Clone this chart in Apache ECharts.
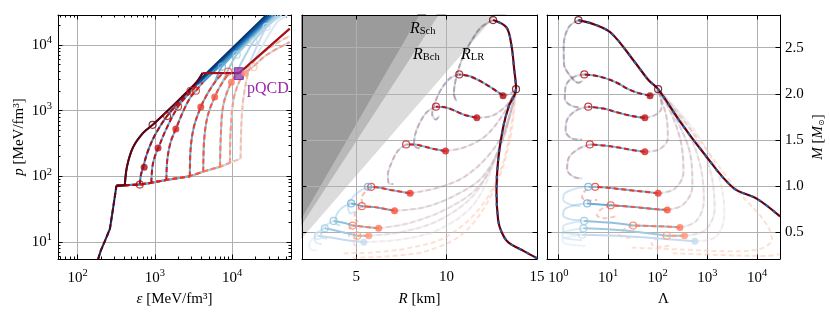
<!DOCTYPE html>
<html><head><meta charset="utf-8">
<script src="https://cdn.jsdelivr.net/npm/echarts@6/dist/echarts.min.js"></script>
<style>html,body{margin:0;padding:0;background:#fff}#c{width:830px;height:312px}</style>
</head><body><div id="c"></div>
<script>
// ================= DATA =================
// ---- Panel 1: equation of state p(eps), MeV/fm^3 ----
const eosHadron = [[184,5.5],[200,7.5],[230,11],[262,16],[290,35],[318,72],[320,72]];
const eosPlateau = [[320,72],[408,73],[638,75],[900,80],[1410,88],[2840,100],[4240,118],[7000,140],[9400,160],[12900,186]];
const eosRise = [
  [[437,143],[523,278],[705,458],[935,606],[1410,950],[2230,1600],[3470,2700],[4150,3720]],
  [[660,105],[705,138],[800,230],[1000,420],[1440,826],[2200,1450],[3200,2300]],
  [[930,140],[1000,200],[1110,270],[1400,520],[2000,1150],[2700,1750],[3600,2500]],
  [[1450,180],[1600,330],[1870,525],[2400,1050],[2900,1600],[3400,2000],[4200,2700]],
  [[2900,250],[3200,560],[3940,1130],[4800,1800],[6000,2700],[7700,3800]],
  [[4350,350],[4800,800],[5960,1610],[7400,2600],[9000,3600]],
  [[7150,400],[7700,1200],[9800,2700],[12500,3900]],
  [[9600,500],[10500,1500],[12500,2800],[14800,3700],[19000,4700],[28000,7000],[56000,11000]],
  [[13200,600],[14000,1500],[15500,3000],[17500,4800],[25000,7500],[40000,11000],[56000,13600]]
];
const eosFan = [
  [[2230,1600],[27500,28000]],
  [[3200,2300],[29500,28000]],
  [[3600,2500],[31500,28000]],
  [[4200,2700],[33000,28000]],
  [[6000,2700],[7400,4650],[34500,28000]],
  [[7400,2600],[11500,7070],[37000,28000]],
  [[9800,2700],[19000,11300],[40000,28000]],
  [[14800,3700],[28000,18700],[44000,28000]],
  [[17500,4800],[38000,22000],[52000,28000]]
];
const eosPqcdPath = [[4150,3720],[12500,3750],[56000,17600]];
const pqcdBoxEps = [10700, 14000];
const pqcdBoxP = [2970, 4480];
const eosFilled = [[727,138],[1100,270],[1870,525],[3940,1130],[5960,1610],[9800,2700],[14800,3700]];
const eosOpenRed = [[638,75],[935,606],[1440,826],[2000,1150],[2900,2000],[3400,2000],[8900,3900],[19000,4600]];
const eosOpenBlue = [[7400,4650],[11500,7070],[19000,11300],[28000,18700]];

// ---- Panel 2: mass-radius (R km, M Msun) ----
const mrMain = [[15,0.215],[14.3,0.29],[13.4,0.39],[13.04,0.5],[12.85,0.63],[12.76,0.94],[12.85,1.28],[13.12,1.63],[13.45,1.87],[13.84,2.05],[13.73,2.28],[13.59,2.52],[13.31,2.72],[12.57,2.80]];
const mrMainFade = [[12.57,2.80],[11.9,2.72],[11.3,2.55],[10.8,2.35],[10.5,2.15],[10.4,2.0],[10.55,1.92]];
const mrStable = [
  [[13.12,1.98],[12.2,2.1],[11.29,2.19],[10.7,2.21]],
  [[11.67,1.74],[11.0,1.77],[10.4,1.82],[9.9,1.855],[9.41,1.86]],
  [[9.94,1.38],[9.3,1.40],[8.7,1.43],[8.2,1.45],[7.76,1.45]],
  [[7.98,0.92],[7.4,0.94],[6.8,0.96],[6.3,0.98],[5.83,0.99]],
  [[7.12,0.73],[6.6,0.75],[6.0,0.77],[5.31,0.78]],
  [[6.24,0.54],[5.8,0.55],[5.3,0.56],[4.8,0.57]],
  [[5.69,0.46],[5.4,0.46],[5.06,0.46]]
];
const mrBlueTail = [
  [[5.83,0.99],[5.65,0.99]],
  [[5.31,0.78],[5.0,0.80],[4.72,0.81]],
  [[4.8,0.57],[4.3,0.60],[3.75,0.62]],
  [[5.06,0.46],[4.2,0.50],[3.26,0.54]],
  [[5.42,0.39],[4.5,0.41],[3.6,0.44],[2.88,0.46]]
];
const mrLink = [
  [[13.12,1.98],[13.5,2.0],[13.84,2.05]],
  [[11.67,1.74],[12.5,1.76],[13.2,1.85],[13.6,1.95],[13.84,2.05]],
  [[9.94,1.38],[11,1.42],[12.2,1.55],[13.2,1.8],[13.84,2.05]],
  [[7.98,0.92],[9.5,0.98],[11,1.1],[12.4,1.35],[13.3,1.65],[13.84,2.05]],
  [[7.12,0.73],[8.8,0.77],[10.5,0.9],[12,1.1],[13.1,1.5],[13.84,2.05]],
  [[6.24,0.54],[8,0.6],[10,0.75],[11.8,1.0],[13,1.45],[13.84,2.05]],
  [[5.69,0.46],[7.5,0.5],[9.5,0.62],[11.5,0.9],[12.9,1.4],[13.84,2.05]],
  [[5.42,0.39],[7.5,0.42],[9.5,0.52],[11.5,0.8],[12.8,1.35],[13.84,2.05]]
];
const mrSpiral = [
  [[10.7,2.21],[10.2,2.17],[9.7,2.05],[9.35,1.9],[9.2,1.78],[9.4,1.72],[9.6,1.76]],
  [[9.41,1.86],[8.9,1.8],[8.5,1.68],[8.25,1.55],[8.2,1.45],[8.45,1.41],[8.6,1.45]],
  [[7.76,1.45],[7.3,1.38],[6.95,1.25],[6.75,1.12],[6.8,1.03],[7.05,1.02]],
  [[5.65,0.99],[5.1,0.93],[4.7,0.85],[4.55,0.76],[4.7,0.70],[4.95,0.72]],
  [[4.72,0.81],[4.2,0.76],[3.9,0.68],[3.85,0.60],[4.1,0.57]],
  [[3.75,0.62],[3.3,0.57],[3.05,0.50],[3.1,0.44],[3.4,0.43]],
  [[3.26,0.54],[2.9,0.50],[2.7,0.44],[2.8,0.38],[3.1,0.37]],
  [[2.88,0.46],[2.55,0.42],[2.4,0.36],[2.5,0.31],[2.8,0.30]]
];
const mrRedCurl = [
  [[5.83,0.99],[5.5,0.94],[5.3,0.86],[5.35,0.80]],
  [[5.31,0.78],[5.0,0.72],[4.9,0.65],[5.1,0.61]],
  [[4.8,0.57],[4.6,0.52],[4.6,0.46],[4.85,0.44]],
  [[5.06,0.46],[4.85,0.41],[4.9,0.36],[5.2,0.35]]
];
const mrLowArcs = [
  [[4.3,0.27],[6,0.28],[8,0.33],[10,0.45],[12,0.8],[13.2,1.3],[13.84,2.05]],
  [[4.8,0.22],[7,0.24],[9,0.30],[11,0.5],[12.6,0.95],[13.5,1.5],[13.84,2.05]]
];
const mrFilled = [[13.12,1.98],[11.67,1.74],[9.94,1.38],[7.98,0.92],[7.12,0.73],[6.24,0.54],[5.69,0.46]];
const mrFilledBlue = [[5.42,0.39]];
const mrOpenRed = [[12.57,2.80],[13.84,2.05],[10.7,2.21],[9.41,1.86],[7.76,1.45],[5.83,0.99],[5.31,0.78],[4.8,0.57],[5.06,0.46]];
const mrOpenBlue = [[5.65,0.99],[4.72,0.81],[3.75,0.62],[3.26,0.54],[2.88,0.46]];
// compactness limits R = c*M  (two points each)
const rSchLine = [[0,0],[8.86,3.0]];
const rBchLine = [[0,0],[9.97,3.0]];
const rLrLine  = [[0,0],[13.29,3.0]];

// ---- Panel 3: tidal deformability Lambda vs M ----
const mlMain = [[2.53,2.80],[5.5,2.75],[11.8,2.655],[35,2.34],[65,2.15],[102,2.05],[280,1.70],[830,1.36],[3300,0.98],[10000,0.86],[29000,0.67]];
const mlMainFade = [[2.53,2.80],[1.6,2.72],[1.28,2.52],[1.3,2.32],[1.7,2.2],[2.5,2.12],[3.1,2.14]];
const mlStable = [
  [[70,1.98],[40,2.01],[25.6,2.05],[15,2.12],[8.7,2.17],[5,2.2],[3.33,2.21]],
  [[55,1.74],[30,1.76],[15,1.80],[8,1.84],[4,1.86]],
  [[55,1.37],[30,1.39],[15,1.42],[8,1.44],[4.3,1.45]],
  [[102,0.92],[50,0.94],[25.6,0.955],[10,0.98],[5.5,0.99]],
  [[156,0.74],[80,0.75],[35,0.77],[11.3,0.79]],
  [[280,0.55],[150,0.56],[70,0.565],[32,0.57]],
  [[346,0.46],[250,0.46],[152,0.46]]
];
const mlBlueTail = [
  [[5.5,0.99],[4.0,0.99]],
  [[11.3,0.79],[6,0.80],[3.8,0.81]],
  [[32,0.57],[12,0.60],[6,0.61],[3.3,0.62]],
  [[152,0.46],[40,0.50],[10,0.53],[3.2,0.54]],
  [[560,0.40],[100,0.43],[15,0.46],[3.0,0.47]]
];
const mlLink = [
  [[70,1.98],[90,2.0],[102,2.05]],
  [[55,1.74],[90,1.77],[120,1.85],[115,1.95],[102,2.05]],
  [[55,1.37],[110,1.4],[160,1.52],[150,1.75],[120,1.93],[102,2.05]],
  [[102,0.92],[220,0.97],[330,1.15],[300,1.45],[200,1.75],[102,2.05]],
  [[156,0.74],[330,0.8],[500,1.0],[450,1.35],[250,1.7],[102,2.05]],
  [[280,0.55],[600,0.62],[850,0.85],[700,1.25],[350,1.65],[102,2.05]],
  [[346,0.46],[900,0.52],[1400,0.75],[1100,1.2],[450,1.62],[102,2.05]],
  [[560,0.40],[1500,0.45],[2200,0.7],[1600,1.15],[550,1.6],[102,2.05]]
];
const mlSpiral = [
  [[3.33,2.21],[2,2.18],[1.4,2.08],[1.35,1.95],[1.7,1.88],[2.6,1.85]],
  [[4,1.86],[2.3,1.82],[1.5,1.72],[1.4,1.6],[1.8,1.52],[3,1.5]],
  [[4.3,1.45],[2.5,1.4],[1.6,1.3],[1.5,1.18],[2,1.1],[3,1.08]],
  [[4.0,0.99],[2.2,0.97],[1.35,0.92],[1.25,0.85],[1.7,0.8],[2.8,0.78]],
  [[3.8,0.81],[2.1,0.79],[1.3,0.74],[1.25,0.68],[1.7,0.64],[2.8,0.63]],
  [[3.3,0.62],[1.9,0.6],[1.25,0.56],[1.25,0.5],[1.8,0.48],[2.8,0.47]],
  [[3.2,0.54],[1.8,0.52],[1.2,0.49],[1.25,0.44],[1.9,0.42],[3,0.41]],
  [[3.0,0.47],[1.7,0.45],[1.2,0.42],[1.3,0.38],[2,0.36],[3.5,0.35]]
];
const mlRedCurl = [
  [[5.5,0.99],[3.5,0.95],[3,0.88],[4,0.84],[6,0.85]],
  [[11.3,0.79],[7,0.74],[6,0.68],[9,0.65],[14,0.67]],
  [[32,0.57],[20,0.52],[17,0.47],[25,0.44],[40,0.45]],
  [[152,0.46],[90,0.42],[75,0.37],[110,0.34],[170,0.35]]
];
const mlLowArcs = [
  [[30,0.33],[300,0.31],[3000,0.29],[12000,0.32],[20000,0.42],[14000,0.62],[4000,0.95],[800,1.45],[102,2.05]],
  [[200,0.27],[2000,0.25],[15000,0.24],[29000,0.26]]
];
const mlFilled = [[70,1.98],[55,1.74],[55,1.37],[102,0.92],[156,0.74],[280,0.55],[346,0.46]];
const mlFilledBlue = [[560,0.40]];
const mlOpenRed = [[2.53,2.80],[102,2.05],[3.33,2.21],[4.0,1.86],[4.3,1.45],[5.5,0.99],[11.3,0.79],[32,0.57],[152,0.46]];
const mlOpenBlue = [[4.0,0.99],[3.8,0.81],[3.3,0.62],[3.2,0.54],[3.0,0.47]];

// ---- axis ticks ----
const epsMajor = [100,1000,10000];
const epsMinor = [60,70,80,90,200,300,400,500,600,700,800,900,2000,3000,4000,5000,6000,7000,8000,9000,20000,30000,40000,50000];
const pMajor = [10,100,1000,10000];
const pMinor = [6,7,8,9,20,30,40,50,60,70,80,90,200,300,400,500,600,700,800,900,2000,3000,4000,5000,6000,7000,8000,9000,20000];
const rMajor = [5,10,15];
const mMajor = [0.5,1.0,1.5,2.0,2.5];
const lamMajor = [1,10,100,1000,10000];

// ================= STYLE =================
const F = 'Liberation Serif';
const FS = 15;
const redK  = ['#67000d','#a50f15','#bc141a','#d42020','#ea372a','#f6553c','#fc7b5c','#fc9a7e','#fcbba1'];
const blueK = ['#08306b','#4a89c0','#6baed6','#6baed6','#6baed6','#8fc2de','#9ecae1','#c6dbef','#dbe9f6'];
const fanK  = ['#08306b','#08519c','#2171b5','#4292c6','#6baed6','#9ecae1','#b4d4ea','#c6dbef','#dbe9f6'];
const redH  = ['#a50f15','#bc141a','#d42020','#ea372a','#f6553c','#fc7b5c','#fc9a7e','#fcbba1'];
const blueH = ['#6baed6','#6baed6','#7db8dc','#7db8dc','#6baed6','#8fc2de','#9ecae1','#c6dbef'];
const openRedC = ['#67000d','#67000d','#a50f15','#bc141a','#d42020','#ea372a','#f6553c','#fc7b5c','#fc9a7e'];
const openBlueC = ['#6baed6','#6baed6','#8fc2de','#9ecae1','#c6dbef'];
const eosOpenRedC = ['#a50f15','#67000d','#a50f15','#bc141a','#d42020','#d42020','#f6553c','#fcbba1'];
const eosOpenBlueC = ['#6baed6','#9ecae1','#b4d4ea','#c6dbef'];
const DASH = [5,3];

const S = [];
function ln(p, data, color, o) {
  o = o || {};
  const s = {type:'line', xAxisIndex:p, yAxisIndex:p, data:data, symbol:'none',
    smooth: o.sm === undefined ? 0.35 : o.sm, clip:true, silent:true, animation:false,
    z: o.z === undefined ? 2 : o.z,
    lineStyle:{color:color, width:o.w || 2, type:o.d || 'solid', opacity:o.op === undefined ? 1 : o.op, cap:'butt'}};
  if (o.area) s.areaStyle = o.area;
  S.push(s);
}
function pair(p, data, blue, red, o) {
  o = o || {};
  ln(p, data, blue, {op:o.op, sm:o.sm});
  ln(p, data, red, {op:o.op, sm:o.sm, d:DASH});
}
function dots(p, pts, colors, open, size) {
  S.push({type:'scatter', xAxisIndex:p, yAxisIndex:p, symbolSize:size, silent:true, animation:false, z:6, clip:true,
    data: pts.map((v,i) => ({value:v, itemStyle: open
      ? {color:'rgba(255,255,255,0)', borderColor:colors[i % colors.length], borderWidth:1.2}
      : {color:colors[i % colors.length]}}))});
}

// ---- Panel 1 series ----
for (let k = 8; k >= 0; k--) ln(0, eosPlateau.slice(0, k + 2), blueK[k], {sm:false});
for (let k = 8; k >= 0; k--) ln(0, [eosPlateau[k + 1]].concat(eosRise[k]), blueK[k]);
for (let k = 8; k >= 0; k--) ln(0, eosFan[k], fanK[k], {sm:0.2});
for (let k = 8; k >= 1; k--) ln(0, eosPlateau.slice(0, k + 2), redK[k], {sm:false, d:DASH});
for (let k = 8; k >= 1; k--) ln(0, [eosPlateau[k + 1]].concat(eosRise[k]), redK[k], {d:DASH});
ln(0, eosPlateau.slice(0, 2), redK[0], {sm:false});
ln(0, [eosPlateau[1]].concat(eosRise[0]), redK[0]);
ln(0, eosPqcdPath, '#a50f15', {sm:false, w:2.2});
ln(0, eosHadron, '#08306b', {sm:false});
ln(0, eosHadron, '#67000d', {sm:false, d:DASH});
S.push({type:'custom', xAxisIndex:0, yAxisIndex:0, silent:true, animation:false, z:4, clip:true,
  data:[[pqcdBoxEps[0], pqcdBoxP[0], pqcdBoxEps[1], pqcdBoxP[1]]],
  encode:{x:[0,2], y:[1,3]},
  renderItem:function(params, api){
    const a = api.coord([api.value(0), api.value(1)]);
    const b = api.coord([api.value(2), api.value(3)]);
    return {type:'rect', shape:{x:a[0], y:b[1], width:b[0]-a[0], height:a[1]-b[1]},
            style:{fill:'rgba(142,56,168,0.75)', stroke:'rgba(120,40,150,0.9)', lineWidth:1}};
  }});
dots(0, eosFilled, redK.slice(1), false, 7);
dots(0, eosOpenRed, eosOpenRedC, true, 7);
dots(0, eosOpenBlue, eosOpenBlueC, true, 7);

// ---- Panel 2 series ----
ln(1, rLrLine, '#dcdcdc', {sm:false, w:0, z:-1, area:{color:'#dcdcdc', opacity:1, origin:'end'}});
ln(1, rBchLine, '#b9b9b9', {sm:false, w:0, z:-1, area:{color:'#b9b9b9', opacity:1, origin:'end'}});
ln(1, rSchLine, '#9b9b9b', {sm:false, w:0, z:-1, area:{color:'#9b9b9b', opacity:1, origin:'end'}});
mrLowArcs.forEach(a => ln(1, a, '#fcbba1', {op:0.45, d:DASH}));
mrLink.forEach((a,i) => pair(1, a, blueH[i], redH[i], {op:0.22}));
mrSpiral.forEach((a,i) => ln(1, a, blueH[i], {op:0.35}));
mrSpiral.slice(0,3).forEach((a,i) => ln(1, a, redH[i], {op:0.28, d:DASH}));
mrRedCurl.forEach((a,i) => ln(1, a, redH[i+3], {op:0.35, d:DASH}));
pair(1, mrMainFade, '#08306b', '#67000d', {op:0.22});
mrBlueTail.forEach((a,i) => ln(1, a, blueH[i+3]));
mrStable.forEach((a,i) => pair(1, a, blueH[i], redH[i]));
ln(1, mrMain, '#67000d', {w:2.2});
ln(1, mrMain, '#2b5c9e', {w:2.2, d:[3,6]});
dots(1, mrFilled, redH, false, 7);
dots(1, mrFilledBlue, ['#c6dbef'], false, 7);
dots(1, mrOpenRed, openRedC, true, 7);
dots(1, mrOpenBlue, openBlueC, true, 7);

// ---- Panel 3 series ----
mlLowArcs.forEach(a => ln(2, a, '#fcbba1', {op:0.45, d:DASH}));
mlLink.forEach((a,i) => pair(2, a, blueH[i], redH[i], {op:0.22}));
mlSpiral.forEach((a,i) => ln(2, a, blueH[i], {op:0.35}));
mlSpiral.slice(0,3).forEach((a,i) => ln(2, a, redH[i], {op:0.28, d:DASH}));
mlRedCurl.forEach((a,i) => ln(2, a, redH[i+3], {op:0.35, d:DASH}));
pair(2, mlMainFade, '#08306b', '#67000d', {op:0.22});
mlBlueTail.forEach((a,i) => ln(2, a, blueH[i+3]));
mlStable.forEach((a,i) => pair(2, a, blueH[i], redH[i]));
ln(2, mlMain, '#67000d', {w:2.2});
ln(2, mlMain, '#2b5c9e', {w:2.2, d:[3,6]});
dots(2, mlFilled, redH, false, 7);
dots(2, mlFilledBlue, ['#c6dbef'], false, 7);
dots(2, mlOpenRed, openRedC, true, 7);
dots(2, mlOpenBlue, openBlueC, true, 7);

// ================= AXES =================
const frame = {show:true, onZero:false, lineStyle:{color:'#000', width:1}};
const noLine = {show:false};
const grid = {show:true, lineStyle:{color:'#b0b0b0', width:1}};
function tick(vals, len) { return {show:true, inside:true, length:len, customValues:vals, lineStyle:{color:'#000', width:1}}; }
const supRich = {b:{fontFamily:F, fontSize:FS, lineHeight:20, color:'#000'},
                 s:{fontFamily:F, fontSize:10.5, lineHeight:8, verticalAlign:'top', color:'#000'}};
function supFmt(v) { return '{b|10}{s|' + Math.round(Math.log10(v)) + '}'; }
const nameStyle = {fontFamily:F, fontSize:FS, color:'#000',
  rich:{i:{fontFamily:F, fontStyle:'italic', fontSize:FS, color:'#000'},
        sub:{fontFamily:'DejaVu Sans', fontSize:8, verticalAlign:'bottom', lineHeight:8, color:'#000'}}};
const off = {show:false};
const E1 = [55.6, 58100], P1 = [5.53, 28400], R2 = [2, 15], M2 = [0.207, 2.855], L3 = [0.59, 29000];

const xAxis = [
  {type:'log', gridIndex:0, position:'bottom', min:E1[0], max:E1[1], axisLine:frame, axisTick:tick(epsMajor,4.5),
   axisLabel:{customValues:epsMajor, formatter:supFmt, rich:supRich, margin:9}, splitLine:grid,
   name:'{i|ε} [MeV/fm³]', nameLocation:'middle', nameGap:33, nameTextStyle:nameStyle},
  {type:'value', gridIndex:1, position:'bottom', min:R2[0], max:R2[1], axisLine:frame, axisTick:tick(rMajor,4.5),
   axisLabel:{customValues:rMajor, fontFamily:F, fontSize:FS, color:'#000', margin:11}, splitLine:grid,
   name:'{i|R} [km]', nameLocation:'middle', nameGap:33, nameTextStyle:nameStyle},
  {type:'log', gridIndex:2, position:'bottom', min:L3[0], max:L3[1], axisLine:frame, axisTick:tick(lamMajor,4.5),
   axisLabel:{customValues:lamMajor, formatter:supFmt, rich:supRich, margin:9}, splitLine:grid,
   name:'Λ', nameLocation:'middle', nameGap:33, nameTextStyle:nameStyle},
  {type:'log', gridIndex:0, position:'top', min:E1[0], max:E1[1], axisLine:frame, axisTick:tick(epsMajor,4.5), axisLabel:off, splitLine:off},
  {type:'value', gridIndex:1, position:'top', min:R2[0], max:R2[1], axisLine:frame, axisTick:tick(rMajor,4.5), axisLabel:off, splitLine:off},
  {type:'log', gridIndex:2, position:'top', min:L3[0], max:L3[1], axisLine:frame, axisTick:tick(lamMajor,4.5), axisLabel:off, splitLine:off},
  {type:'log', gridIndex:0, position:'bottom', min:E1[0], max:E1[1], axisLine:noLine, axisTick:tick(epsMinor,2.5), axisLabel:off, splitLine:off},
  {type:'log', gridIndex:0, position:'top', min:E1[0], max:E1[1], axisLine:noLine, axisTick:tick(epsMinor,2.5), axisLabel:off, splitLine:off}
];
const yAxis = [
  {type:'log', gridIndex:0, position:'left', min:P1[0], max:P1[1], axisLine:frame, axisTick:tick(pMajor,4.5),
   axisLabel:{customValues:pMajor, formatter:supFmt, rich:supRich, margin:6}, splitLine:grid,
   name:'{i|p} [MeV/fm³]', nameLocation:'middle', nameGap:31, nameRotate:90, nameTextStyle:nameStyle},
  {type:'value', gridIndex:1, position:'left', min:M2[0], max:M2[1], axisLine:frame, axisTick:tick(mMajor,4.5), axisLabel:off, splitLine:grid},
  {type:'value', gridIndex:2, position:'right', min:M2[0], max:M2[1], axisLine:frame, axisTick:tick(mMajor,4.5),
   axisLabel:{customValues:mMajor, formatter:v => v.toFixed(1), fontFamily:F, fontSize:FS, color:'#000', margin:5}, splitLine:grid,
   name:'{i|M} [{i|M}{sub|⊙}]', nameLocation:'middle', nameGap:31, nameRotate:90, nameTextStyle:nameStyle},
  {type:'log', gridIndex:0, position:'right', min:P1[0], max:P1[1], axisLine:frame, axisTick:tick(pMajor,4.5), axisLabel:off, splitLine:off},
  {type:'value', gridIndex:1, position:'right', min:M2[0], max:M2[1], axisLine:frame, axisTick:tick(mMajor,4.5), axisLabel:off, splitLine:off},
  {type:'value', gridIndex:2, position:'left', min:M2[0], max:M2[1], axisLine:frame, axisTick:tick(mMajor,4.5), axisLabel:off, splitLine:off},
  {type:'log', gridIndex:0, position:'left', min:P1[0], max:P1[1], axisLine:noLine, axisTick:tick(pMinor,2.5), axisLabel:off, splitLine:off},
  {type:'log', gridIndex:0, position:'right', min:P1[0], max:P1[1], axisLine:noLine, axisTick:tick(pMinor,2.5), axisLabel:off, splitLine:off}
];

const txtRich = {i:{fontFamily:F, fontStyle:'italic', fontSize:16, color:'#000'},
                 s:{fontFamily:F, fontSize:10.5, lineHeight:10, verticalAlign:'bottom', color:'#000'}};
const chart = echarts.init(document.getElementById('c'), null, {renderer:'canvas'});
chart.setOption({
  animation:false,
  backgroundColor:'#fff',
  grid:[
    {left:58, top:15, width:233, height:256},
    {left:302, top:15, width:235, height:256},
    {left:547, top:15, width:233, height:256}
  ],
  xAxis: xAxis,
  yAxis: yAxis,
  series: S,
  graphic:[
    {type:'text', x:247, y:89, z:10, style:{text:'pQCD', fontFamily:F, fontSize:16, fill:'#9a2aa8', verticalAlign:'middle'}},
    {type:'text', x:410, y:29, z:10, style:{text:'{i|R}{s|Sch}', rich:txtRich, verticalAlign:'middle'}},
    {type:'text', x:413, y:55, z:10, style:{text:'{i|R}{s|Bch}', rich:txtRich, verticalAlign:'middle'}},
    {type:'text', x:461, y:55, z:10, style:{text:'{i|R}{s|LR}', rich:txtRich, verticalAlign:'middle'}}
  ]
});
</script></body></html>
